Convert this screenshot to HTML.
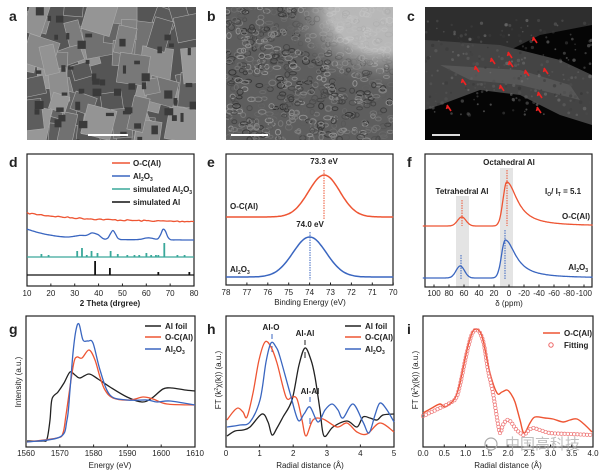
<!DOCTYPE html>
<html><head><meta charset="utf-8"><style>
html,body{margin:0;padding:0;background:#fff;}
svg{display:block;font-family:"Liberation Sans",Arial,sans-serif;}
.t{font-size:8px;fill:#222;}
.L{font-size:14px;font-weight:bold;fill:#222;}
.lg{font-size:8px;font-weight:bold;fill:#222;}
</style></head><body>
<svg id="s" width="600" height="474" viewBox="0 0 600 474" xmlns="http://www.w3.org/2000/svg">
<defs>
<clipPath id="ca"><rect x="27" y="7" width="169" height="133"/></clipPath>
<clipPath id="cb"><rect x="226" y="7" width="167" height="133"/></clipPath>
<clipPath id="cc"><rect x="425" y="7" width="167" height="133"/></clipPath>
<radialGradient id="gb" cx="0.95" cy="0" r="0.6"><stop offset="0.55" stop-color="#cfcfcf"/><stop offset="1" stop-color="#7a7a7a" stop-opacity="0"/></radialGradient>
</defs>
<!-- top images -->
<g clip-path="url(#ca)"><rect x="27" y="7" width="169" height="133" fill="#555"/><g id="ga"></g></g>
<rect x="88" y="134" width="40" height="2" fill="#fff"/>
<g clip-path="url(#cb)"><rect x="226" y="7" width="167" height="133" fill="#5e5e5e"/><g id="gbn"></g><rect x="226" y="7" width="167" height="133" fill="url(#gb)" opacity="0.8"/></g>
<rect x="231" y="134" width="37" height="2" fill="#fff"/>
<g clip-path="url(#cc)"><rect x="425" y="7" width="167" height="133" fill="#050505"/>
<path d="M425 7 L592 7 L592 25 L540 35 L500 55 L470 75 L425 90 Z" fill="#2e2e2e"/>
<path d="M425 40 L500 45 L560 60 L592 75 L592 125 L560 115 L520 95 L480 90 L440 105 L425 110 Z" fill="#444"/>
<path d="M440 65 L520 70 L570 85 L580 100 L520 85 L470 80 Z" fill="#5e5e5e" opacity="0.7"/><g id="gcn"></g>
<g stroke="#e22" stroke-width="1.6" fill="#e22" id="arr"></g></g>
<rect x="432" y="134" width="28" height="2" fill="#ddd"/>
<text class="L" x="9" y="21">a</text><text class="L" x="207" y="21">b</text><text class="L" x="407" y="21">c</text>
<text class="L" x="9" y="167">d</text><text class="L" x="207" y="167">e</text><text class="L" x="407" y="167">f</text>
<text class="L" x="9" y="334">g</text><text class="L" x="207" y="334">h</text><text class="L" x="407" y="334">i</text>

<!-- d -->
<rect x="27" y="154" width="167" height="132" fill="none" stroke="#222" stroke-width="1.2"/>
<line x1="27" y1="257" x2="194" y2="257" stroke="#3aa89a" stroke-width="1.2"/>
<line x1="27" y1="275" x2="194" y2="275" stroke="#111" stroke-width="1.2"/>
<g id="dt" class="t"></g>
<text class="t" x="110" y="306" text-anchor="middle" font-weight="bold">2 Theta (drgree)</text>
<g class="lg"><line x1="112" y1="163" x2="130" y2="163" stroke="#e53" stroke-width="1.5"/><text x="133" y="166">O-C(Al)</text>
<line x1="112" y1="176" x2="130" y2="176" stroke="#3a66c0" stroke-width="1.5"/><text x="133" y="179">Al<tspan font-size="5" dy="2">2</tspan><tspan dy="-2">O</tspan><tspan font-size="5" dy="2">3</tspan></text>
<line x1="112" y1="189" x2="130" y2="189" stroke="#3aa89a" stroke-width="1.5"/><text x="133" y="192">simulated Al<tspan font-size="5" dy="2">2</tspan><tspan dy="-2">O</tspan><tspan font-size="5" dy="2">3</tspan></text>
<line x1="112" y1="202" x2="130" y2="202" stroke="#111" stroke-width="1.5"/><text x="133" y="205">simulated Al</text></g>

<!-- e -->
<rect x="226" y="154" width="167" height="131" fill="none" stroke="#222" stroke-width="1.2"/>
<line x1="324" y1="170" x2="324" y2="220" stroke="#e53" stroke-dasharray="1.5,1"/>
<line x1="310" y1="232" x2="310" y2="280" stroke="#3a66c0" stroke-dasharray="1.5,1"/>
<text class="lg" x="324" y="164" text-anchor="middle">73.3 eV</text>
<text class="lg" x="310" y="227" text-anchor="middle">74.0 eV</text>
<text class="lg" x="230" y="209">O-C(Al)</text>
<text class="lg" x="230" y="272">Al<tspan font-size="5" dy="2">2</tspan><tspan dy="-2">O</tspan><tspan font-size="5" dy="2">3</tspan></text>
<g id="et" class="t"></g>
<text class="t" x="310" y="305" text-anchor="middle">Binding Energy (eV)</text>

<!-- f -->
<rect x="456" y="196" width="13" height="91" fill="#e4e4e4"/>
<rect x="500" y="168" width="13" height="119" fill="#e4e4e4"/>
<rect x="425" y="154" width="167" height="133" fill="none" stroke="#222" stroke-width="1.2"/>
<line x1="462" y1="200" x2="462" y2="226" stroke="#e53" stroke-dasharray="1.5,1"/>
<line x1="507" y1="170" x2="507" y2="226" stroke="#e53" stroke-dasharray="1.5,1"/>
<line x1="461" y1="255" x2="461" y2="280" stroke="#3a66c0" stroke-dasharray="1.5,1"/>
<line x1="505" y1="230" x2="505" y2="280" stroke="#3a66c0" stroke-dasharray="1.5,1"/>
<text class="lg" x="509" y="165" text-anchor="middle">Octahedral Al</text>
<text class="lg" x="462" y="194" text-anchor="middle">Tetrahedral Al</text>
<text class="lg" x="545" y="194">I<tspan font-size="5" dy="2">O</tspan><tspan dy="-2">/ I</tspan><tspan font-size="5" dy="2">T</tspan><tspan dy="-2"> = 5.1</tspan></text>
<text class="lg" x="590" y="219" text-anchor="end">O-C(Al)</text>
<text class="lg" x="588" y="270" text-anchor="end">Al<tspan font-size="5" dy="2">2</tspan><tspan dy="-2">O</tspan><tspan font-size="5" dy="2">3</tspan></text>
<g id="ft" class="t"></g>
<text class="t" x="509" y="306" text-anchor="middle">δ (ppm)</text>

<!-- g -->
<rect x="26" y="316" width="169" height="131" fill="none" stroke="#222" stroke-width="1.2"/>
<g id="gt" class="t"></g>
<text class="t" x="110" y="468" text-anchor="middle">Energy (eV)</text>
<text class="t" transform="translate(21,382) rotate(-90)" text-anchor="middle">Intensity (a.u.)</text>
<g class="lg"><line x1="145" y1="326" x2="161" y2="326" stroke="#222" stroke-width="1.5"/><text x="165" y="329">Al foil</text>
<line x1="145" y1="337" x2="161" y2="337" stroke="#e53" stroke-width="1.5"/><text x="165" y="340">O-C(Al)</text>
<line x1="145" y1="349" x2="161" y2="349" stroke="#3a66c0" stroke-width="1.5"/><text x="165" y="352">Al<tspan font-size="5" dy="2">2</tspan><tspan dy="-2">O</tspan><tspan font-size="5" dy="2">3</tspan></text></g>

<!-- h -->
<rect x="226" y="316" width="168" height="131" fill="none" stroke="#222" stroke-width="1.2"/>
<g id="ht" class="t"></g>
<text class="t" x="310" y="468" text-anchor="middle">Radial distance (Å)</text>
<text class="t" transform="translate(221,380) rotate(-90)" text-anchor="middle">FT (k<tspan font-size="5" dy="-3">2</tspan><tspan dy="3">χ(k)) (a.u.)</tspan></text>
<text class="lg" x="271" y="330" text-anchor="middle" fill="#3a66c0">Al-O</text>
<line x1="272" y1="334" x2="272" y2="339" stroke="#3a66c0"/><line x1="272" y1="346" x2="272" y2="352" stroke="#3a66c0"/>
<text class="lg" x="305" y="336" text-anchor="middle">Al-Al</text>
<line x1="305" y1="340" x2="305" y2="345" stroke="#222"/><line x1="305" y1="352" x2="305" y2="358" stroke="#222"/>
<text class="lg" x="310" y="394" text-anchor="middle" fill="#3a66c0">Al-Al</text>
<line x1="310" y1="397" x2="310" y2="402" stroke="#3a66c0"/><line x1="310" y1="418" x2="310" y2="424" stroke="#3a66c0"/>
<g class="lg"><line x1="345" y1="326" x2="361" y2="326" stroke="#222" stroke-width="1.5"/><text x="365" y="329">Al foil</text>
<line x1="345" y1="337" x2="361" y2="337" stroke="#e53" stroke-width="1.5"/><text x="365" y="340">O-C(Al)</text>
<line x1="345" y1="349" x2="361" y2="349" stroke="#3a66c0" stroke-width="1.5"/><text x="365" y="352">Al<tspan font-size="5" dy="2">2</tspan><tspan dy="-2">O</tspan><tspan font-size="5" dy="2">3</tspan></text></g>

<!-- i -->
<rect x="423" y="316" width="170" height="131" fill="none" stroke="#222" stroke-width="1.2"/>
<g id="it" class="t"></g>
<text class="t" x="508" y="468" text-anchor="middle">Radial distance (Å)</text>
<text class="t" transform="translate(418,380) rotate(-90)" text-anchor="middle">FT (k<tspan font-size="5" dy="-3">2</tspan><tspan dy="3">χ(k)) (a.u.)</tspan></text>
<g class="lg"><line x1="543" y1="333" x2="560" y2="333" stroke="#e53" stroke-width="1.5"/><text x="564" y="336">O-C(Al)</text>
<circle cx="551" cy="345" r="2.2" fill="none" stroke="#e66"/><text x="564" y="348">Fitting</text></g>
<text x="505" y="449" font-size="15" fill="#aaa" opacity="0.75" font-family="'Liberation Sans','Noto Sans CJK SC',sans-serif">中国高科技</text>
<circle cx="491" cy="444" r="6" fill="none" stroke="#aaa" stroke-width="1.2"/>
<g id="curves"></g>
</svg>
<script>
var NS="http://www.w3.org/2000/svg";
function el(p,n,a,t){var e=document.createElementNS(NS,n);for(var k in a)e.setAttribute(k,a[k]);if(t!==undefined)e.textContent=t;p.appendChild(e);return e;}
var seed=7;function rnd(){seed=(seed*16807)%2147483647;return seed/2147483647;}
function smooth(p){var d="M"+p[0][0]+" "+p[0][1];for(var i=0;i<p.length-1;i++){var p0=p[i-1]||p[i],p1=p[i],p2=p[i+1],p3=p[i+2]||p2;var c1x=p1[0]+(p2[0]-p0[0])/6,c1y=p1[1]+(p2[1]-p0[1])/6,c2x=p2[0]-(p3[0]-p1[0])/6,c2y=p2[1]-(p3[1]-p1[1])/6;d+=" C"+c1x.toFixed(1)+" "+c1y.toFixed(1)+" "+c2x.toFixed(1)+" "+c2y.toFixed(1)+" "+p2[0]+" "+p2[1];}return d;}
var C=document.getElementById("curves");
function line(p,c,w){el(C,"path",{d:smooth(p),fill:"none",stroke:c,"stroke-width":w||1.3,"stroke-linejoin":"round"});}
var RED="#e53",BLUE="#3a66c0",BLK="#222";
function ticks(g,y0,list,yl,len){var G=document.getElementById(g);list.forEach(function(t){el(G,"line",{x1:t[0],x2:t[0],y1:y0,y2:y0-(len||2.5),stroke:"#222"});el(G,"text",{x:t[0],y:yl,"text-anchor":"middle"},t[1]);});}
var L=[];for(var v=10;v<=80;v+=10)L.push([27+(v-10)*2.386,v]);ticks("dt",286,L,296);
L=[];for(v=78;v>=70;v--)L.push([226+(78-v)*20.9,v]);ticks("et",285,L,295);
L=[];for(v=100;v>=-100;v-=20)L.push([509-0.75*v,v]);ticks("ft",287,L,296);
L=[];for(v=1560;v<=1610;v+=10)L.push([26+(v-1560)*3.38,v]);ticks("gt",447,L,456);
L=[];for(v=0;v<=5;v++)L.push([226+v*33.6,v]);ticks("ht",447,L,456);
L=[];for(v=0;v<=4;v+=0.5)L.push([423+v*42.5,v.toFixed(1)]);ticks("it",447,L,456);
// d
var pr=[],pb=[];for(var x=10;x<=80;x+=1){var px=27+(x-10)*2.386;pr.push([+px.toFixed(1),+(213+9*(1-Math.exp(-(x-10)/25))+(rnd()-0.5)*1.2).toFixed(1)]);
var yb=229+11*(1-Math.exp(-(x-10)/12))-3*Math.exp(-Math.pow((x-33)/4,2))-5*Math.exp(-Math.pow((x-37.5)/2,2))-3*Math.exp(-Math.pow((x-40)/1.5,2))-9*Math.exp(-Math.pow((x-46)/1.5,2))-11*Math.exp(-Math.pow((x-67.3)/1.5,2))-2*Math.exp(-Math.pow((x-61)/3,2));pb.push([+px.toFixed(1),+yb.toFixed(1)]);}
line(pr,RED,1.3);line(pb,BLUE,1.3);
[[16,3],[19,2],[31,6],[33,9],[35,2],[37,6],[39.5,4],[45,6],[48,3],[52,2],[55,2],[57,2],[60,4],[62,2],[64,2],[65,2],[67.5,14],[73,2],[76,2]].forEach(function(q){var px=27+(q[0]-10)*2.386;el(C,"rect",{x:px-0.8,y:257-q[1],width:1.8,height:q[1],fill:"#3aa89a"});});
[[38.5,14],[44.7,7],[65,3],[78,3]].forEach(function(q){var px=27+(q[0]-10)*2.386;el(C,"rect",{x:px-0.8,y:275-q[1],width:1.8,height:q[1],fill:"#111"});});
// e
function gauss(y0,h,c,s,xs,xe,step,fx){var p=[];for(var e=xs;e>=xe-1e-6;e-=step){p.push([+fx(e).toFixed(1),+(y0-h*Math.exp(-Math.pow((e-c)/s,2)/2)).toFixed(1)]);}return p;}
var fe=function(e){return 226+(78-e)*20.9;};
line(gauss(217,42,73.3,0.75,78,70,0.1,fe),RED,1.5);line(gauss(277,40,74.0,0.8,78,70,0.1,fe),BLUE,1.5);
// f
var ff=function(d){return 509-0.75*d;};
function nmr(y0,hT,cT,hO,cO){var p=[];for(var d=115;d>=-112;d-=1.5){var y=y0-hT*Math.exp(-Math.pow((d-cT)/8,2))-(d>cO?hO*Math.exp(-Math.pow((d-cO)/7,2)):hO/(1+Math.pow((d-cO)/17,2)));p.push([+ff(d).toFixed(1),+y.toFixed(1)]);}return p;}
line(nmr(226,9,63,44,3),RED,1.3);line(nmr(278,12,65,38,5),BLUE,1.3);
// g
line([[27,441],[43,441],[47,439],[50,420],[52,399],[58,392],[64,383],[70,372],[75,375],[80,378],[89,374],[98,379],[110,387],[127,397],[142,402],[152,398],[163,389],[172,388],[185,390],[195,391]],BLK);
line([[27,442],[57,438],[63,433],[66,415],[70,387],[74,362],[77,357],[82,358],[89,350],[95,360],[100,377],[105,390],[113,398],[130,400],[143,397],[153,399],[167,404],[195,405]],RED);
line([[27,442],[60,437],[67,420],[70,390],[73,353],[76,330],[79,324],[83,340],[88,341],[93,343],[100,370],[110,395],[127,400],[147,400],[157,402],[170,401],[195,405]],BLUE);
// h
line([[227,436],[235,431],[243,430],[250,427],[262,414],[268,422],[272,435],[277,428],[283,417],[292,400],[299,365],[305,348],[311,360],[315,377],[320,410],[324,436],[333,427],[347,421],[357,427],[363,417],[370,418],[377,420],[383,415],[394,414]],BLK);
line([[227,420],[233,412],[238,408],[243,412],[247,417],[253,393],[259,360],[265,342],[271,347],[277,363],[286,397],[292,397],[297,399],[302,420],[306,436],[313,420],[323,419],[337,427],[347,423],[357,432],[367,434],[380,423],[394,432]],RED);
line([[227,427],[240,425],[250,422],[260,400],[266,362],[271,343],[276,347],[280,357],[290,393],[298,420],[304,414],[310,407],[318,422],[325,410],[332,404],[338,410],[343,418],[353,404],[363,422],[369,433],[375,415],[380,403],[387,410],[394,422]],BLUE);
// i
var ir=[[423,413],[432,408],[440,404],[445,407],[452,402],[456,396],[460,383],[467,350],[472,333],[476,329],[480,332],[483,340],[490,373],[497,393],[502,392],[507,390],[511,394],[515,402],[520,420],[524,433],[530,423],[535,417],[545,418],[553,419],[563,422],[570,420],[577,419],[585,425],[592,432]];
line(ir,RED,1.4);
var fi=[[423,416],[440,408],[450,403],[456,398],[460,385],[467,352],[472,334],[476,330],[480,333],[484,345],[488,370],[493,393],[497,418],[500,433],[503,425],[507,420],[511,422],[515,428],[520,433],[524,435],[528,431],[533,428],[540,430],[550,433],[570,434],[592,435]];
var pp=el(C,"path",{d:smooth(fi),fill:"none"});var Ltot=pp.getTotalLength();for(var s=0;s<Ltot;s+=3.2){var q=pp.getPointAtLength(s);el(C,"circle",{cx:q.x.toFixed(1),cy:q.y.toFixed(1),r:1.7,fill:"none",stroke:"#e77","stroke-width":0.7});}
// image a texture
var ga=document.getElementById("ga");for(var i=0;i<55;i++){var x=27+rnd()*169,y=7+rnd()*133,w=14+rnd()*20,h=14+rnd()*22,g=Math.floor(85+rnd()*70);el(ga,"rect",{x:x-w/2,y:y-h/2,width:w,height:h,fill:"rgb("+g+","+g+","+g+")",stroke:"#aaa","stroke-width":0.6,transform:"rotate("+(rnd()*40-20)+" "+x+" "+y+")"});}
for(i=0;i<50;i++){var x=27+rnd()*169,y=7+rnd()*133;el(ga,"rect",{x:x,y:y,width:3+rnd()*6,height:3+rnd()*6,fill:"#3a3a3a"});}
var gbn=document.getElementById("gbn");for(i=0;i<700;i++){var g=Math.floor(50+rnd()*100);el(gbn,"ellipse",{cx:226+rnd()*167,cy:7+rnd()*133,rx:2+rnd()*2,ry:1.5+rnd()*1.5,fill:"none",stroke:"rgb("+g+","+g+","+g+")","stroke-width":1});}
var gcn=document.getElementById("gcn");for(i=0;i<250;i++){var g=Math.floor(50+rnd()*70);el(gcn,"circle",{cx:425+rnd()*167,cy:20+rnd()*95,r:0.8+rnd(),fill:"rgb("+g+","+g+","+g+")",opacity:0.6});}
var A=document.getElementById("arr");[[533,37],[508,52],[491,58],[509,61],[475,66],[525,70],[544,68],[462,79],[500,85],[538,92],[447,105],[537,107]].forEach(function(a){el(A,"line",{x1:a[0]+4,y1:a[1]+6,x2:a[0],y2:a[1]});el(A,"path",{d:"M"+a[0]+" "+a[1]+" l-1 4 l3.5 -1.5 z","stroke-width":0.5});});
</script>
</body></html>
